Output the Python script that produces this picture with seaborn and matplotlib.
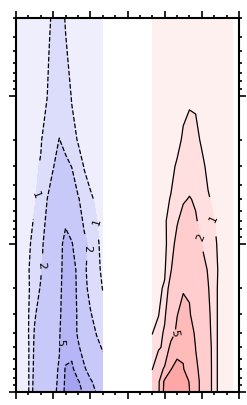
import matplotlib
matplotlib.use("Agg")
import matplotlib.pyplot as plt
import numpy as np
import seaborn as sns

sns.set_theme(style="ticks")
plt.rcParams["font.family"] = ["DejaVu Sans"]

# pressure levels (hPa), top of the atmosphere first
pressure = [3, 5, 10, 20, 30, 50, 70, 100, 150, 200, 300, 400, 500, 700, 850, 1000]
lat_south = [-90, -85, -80, -75, -70, -65, -60, -55, -50, -45, -40, -35, -30, -25, -20]
lat_north = [20, 25, 30, 35, 40, 45, 50, 55, 60, 65, 70, 75, 80, 85]

# magnitudes (southern part drawn dashed)
south_vals = [
    [0.30, 0.35, 0.40, 0.50, 0.60, 0.85, 1.10, 1.20, 0.97, 0.80, 0.65, 0.55, 0.50, 0.45, 0.40],
    [0.30, 0.35, 0.45, 0.55, 0.70, 0.90, 1.20, 1.40, 1.05, 0.85, 0.70, 0.60, 0.50, 0.45, 0.40],
    [0.30, 0.40, 0.50, 0.65, 0.80, 0.98, 1.40, 1.70, 1.40, 0.95, 0.80, 0.65, 0.55, 0.50, 0.45],
    [0.40, 0.50, 0.60, 0.80, 0.95, 1.30, 1.80, 2.02, 1.80, 1.30, 0.95, 0.80, 0.65, 0.55, 0.50],
    [0.45, 0.55, 0.70, 0.90, 1.05, 1.50, 1.95, 2.40, 2.20, 1.98, 1.50, 0.95, 0.80, 0.65, 0.55],
    [0.50, 0.60, 0.80, 0.95, 1.20, 1.98, 2.60, 3.00, 3.20, 2.80, 2.10, 1.60, 1.10, 0.90, 0.70],
    [0.55, 0.65, 0.85, 1.05, 1.50, 2.20, 3.00, 3.80, 4.80, 3.80, 2.60, 1.80, 1.30, 1.02, 0.80],
    [0.60, 0.70, 0.90, 1.20, 1.70, 2.50, 3.50, 4.50, 5.50, 5.20, 3.50, 2.30, 1.70, 1.10, 0.85],
    [0.65, 0.75, 0.95, 1.40, 1.90, 2.70, 3.80, 4.30, 6.00, 5.80, 4.60, 2.20, 1.60, 1.15, 0.90],
    [0.70, 0.80, 0.90, 1.50, 2.10, 2.80, 3.80, 4.40, 6.20, 6.00, 4.60, 2.30, 1.70, 1.30, 0.98],
    [0.75, 0.85, 0.95, 1.90, 2.40, 3.00, 3.90, 4.60, 6.40, 6.30, 4.70, 3.00, 2.10, 1.60, 1.20],
    [0.80, 0.90, 0.97, 2.10, 2.60, 3.10, 4.00, 4.80, 6.80, 6.80, 4.60, 3.40, 2.50, 1.95, 1.70],
    [0.85, 0.95, 0.90, 2.20, 2.70, 3.20, 4.20, 4.90, 8.00, 8.50, 5.50, 3.60, 2.80, 2.30, 1.90],
    [0.90, 0.95, 0.90, 2.30, 2.80, 3.40, 4.40, 5.20, 10.5, 11.0, 7.50, 5.50, 3.50, 3.00, 2.50],
    [0.90, 0.95, 0.90, 2.40, 2.90, 3.50, 4.50, 5.30, 11.0, 12.0, 10.5, 8.00, 5.50, 3.80, 3.00],
    [0.90, 0.95, 0.90, 2.50, 3.00, 3.60, 4.60, 5.40, 11.5, 12.5, 11.0, 9.50, 6.50, 4.80, 3.20],
]

north_vals = [
    [0.30, 0.30, 0.35, 0.40, 0.45, 0.50, 0.55, 0.55, 0.50, 0.45, 0.40, 0.35, 0.30, 0.30],
    [0.35, 0.40, 0.45, 0.50, 0.60, 0.70, 0.75, 0.75, 0.65, 0.55, 0.45, 0.40, 0.35, 0.30],
    [0.40, 0.45, 0.50, 0.60, 0.75, 0.85, 0.90, 0.90, 0.80, 0.65, 0.50, 0.45, 0.40, 0.35],
    [0.50, 0.55, 0.60, 0.70, 0.80, 1.10, 1.30, 1.20, 0.90, 0.70, 0.55, 0.50, 0.45, 0.40],
    [0.55, 0.60, 0.65, 0.80, 1.10, 1.40, 1.60, 1.50, 1.20, 0.80, 0.60, 0.55, 0.50, 0.45],
    [0.60, 0.70, 0.80, 1.05, 1.50, 1.90, 2.05, 1.90, 1.50, 1.10, 0.80, 0.60, 0.50, 0.50],
    [0.60, 0.75, 0.90, 1.30, 1.90, 2.40, 2.60, 2.10, 1.70, 1.30, 1.02, 0.80, 0.60, 0.50],
    [0.60, 0.70, 0.80, 1.50, 2.40, 3.00, 3.20, 2.80, 1.98, 1.50, 1.10, 0.85, 0.65, 0.55],
    [0.65, 0.80, 0.90, 1.90, 3.20, 3.80, 4.00, 3.50, 2.60, 1.90, 1.20, 0.85, 0.65, 0.55],
    [0.70, 0.85, 1.10, 2.70, 4.20, 4.80, 4.80, 4.00, 3.00, 2.10, 1.20, 0.80, 0.65, 0.55],
    [0.80, 0.95, 1.80, 3.20, 4.90, 6.00, 5.20, 4.00, 3.20, 2.40, 1.20, 0.80, 0.70, 0.60],
    [0.97, 1.50, 2.20, 3.80, 5.60, 7.00, 6.50, 4.50, 3.60, 2.60, 1.20, 0.80, 0.70, 0.60],
    [1.30, 1.80, 2.30, 6.00, 8.00, 9.50, 8.50, 4.95, 4.00, 2.90, 1.20, 0.80, 0.70, 0.60],
    [1.95, 3.50, 5.50, 9.80, 12.0, 10.2, 8.00, 5.50, 4.20, 3.00, 1.20, 0.80, 0.70, 0.60],
    [2.60, 4.20, 11.0, 13.0, 14.0, 12.0, 9.80, 6.00, 4.30, 3.00, 1.20, 0.80, 0.70, 0.60],
    [2.80, 4.30, 11.5, 13.0, 14.0, 12.0, 10.1, 6.00, 4.30, 3.00, 1.20, 0.80, 0.70, 0.60],
]

levels = [0, 1, 2, 5, 10, 20]
line_levels = [1, 2, 5, 10]

# where the contour labels sit (lat, hPa)
south_label_spots = [(-74, 47), (-27, 73), (-69, 139), (-35, 107), (-52, 460)]
north_label_spots = [(70.6, 66), (58.5, 92), (36.7, 400)]

blues = ["#eeeefd", "#dcdcfb", "#c9c9f9", "#b6b6f6", "#a3a3f2"]
reds = ["#fff0f0", "#ffdfdf", "#ffcdcd", "#ffbaba", "#ffa6a6"]

fig = plt.figure(figsize=(2.47, 4.05), dpi=100)
ax = fig.add_axes([16 / 247, 13 / 405, 223 / 247, 374 / 405])

ax.contourf(lat_south, pressure, np.array(south_vals), levels=levels, colors=blues)
ax.contourf(lat_north, pressure, np.array(north_vals), levels=levels, colors=reds)

cs_s = ax.contour(lat_south, pressure, np.array(south_vals), levels=line_levels,
                  colors="black", linewidths=0.9, linestyles="--")
cs_n = ax.contour(lat_north, pressure, np.array(north_vals), levels=line_levels,
                  colors="black", linewidths=0.9, linestyles="-")
ax.clabel(cs_s, levels=[1, 2, 5], fmt="%g", fontsize=8, inline=True,
          manual=south_label_spots)
ax.clabel(cs_n, levels=[1, 2, 5], fmt="%g", fontsize=8, inline=True,
          manual=north_label_spots)

ax.set_yscale("log")
ax.set_ylim(1000, 3)
ax.set_xlim(-90, 90)
ax.set_xticks([-90, -60, -30, 0, 30, 60, 90])
ax.set_xticks(np.arange(-90, 91, 10), minor=True)
ax.tick_params(which="both", direction="out", top=True, right=True,
               labelbottom=False, labelleft=False, width=1.2, color="black")
ax.tick_params(which="major", length=5)
ax.tick_params(which="minor", length=2.5)
for s in ax.spines.values():
    s.set_linewidth(1.5)
    s.set_color("black")
ax.set_xlabel("")
ax.set_ylabel("")

fig.savefig("out.png", dpi=100)
